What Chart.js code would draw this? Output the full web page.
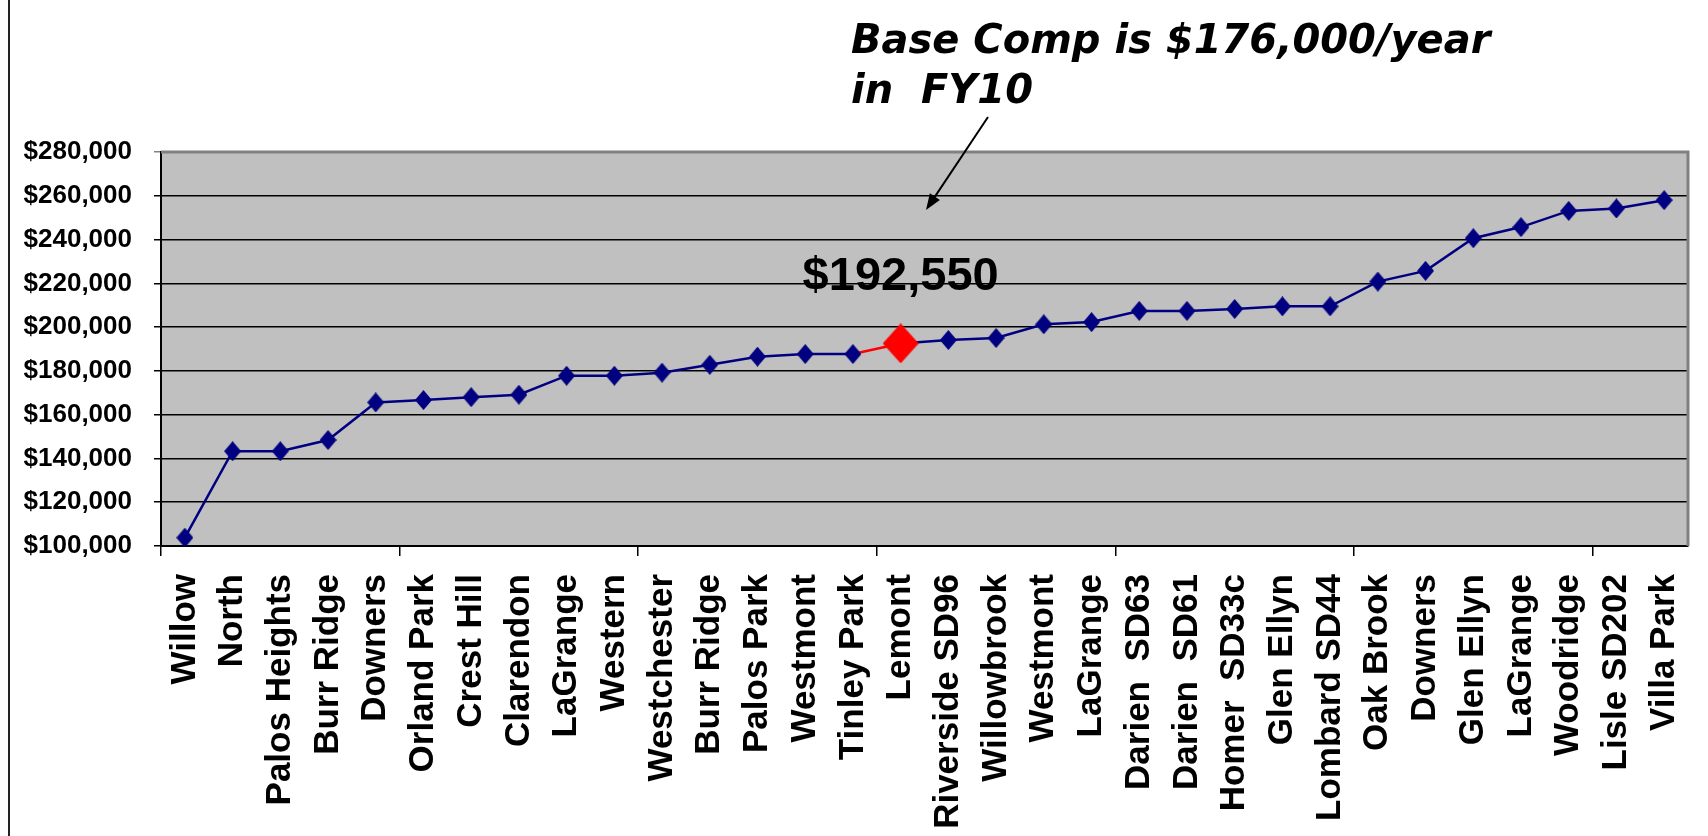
<!DOCTYPE html>
<html>
<head>
<meta charset="utf-8">
<script src="https://cdn.jsdelivr.net/npm/chart.js@4/dist/chart.umd.min.js"></script>
<style>
  body { margin: 0; background: #fff; }
  #wrap { position: relative; width: 1708px; height: 836px; }
</style>
</head>
<body>
<div id="wrap"><canvas id="chart" width="1708" height="836"></canvas></div>
<script>
const categories = [
  'Willow', 'North', 'Palos Heights', 'Burr Ridge', 'Downers', 'Orland Park',
  'Crest Hill', 'Clarendon', 'LaGrange', 'Western', 'Westchester', 'Burr Ridge',
  'Palos Park', 'Westmont', 'Tinley Park', 'Lemont', 'Riverside SD96', 'Willowbrook',
  'Westmont', 'LaGrange', 'Darien  SD63', 'Darien  SD61', 'Homer  SD33c', 'Glen Ellyn',
  'Lombard SD44', 'Oak Brook', 'Downers', 'Glen Ellyn', 'LaGrange', 'Woodridge',
  'Lisle SD202', 'Villa Park'
];
const salaries = [
  103800, 143300, 143300, 148400, 165600, 166700, 168000, 169100, 177800, 177800,
  179200, 182800, 186500, 187700, 187700, 192550, 194100, 195000, 201300, 202300,
  207400, 207400, 208300, 209500, 209500, 220800, 225700, 240600, 245700, 253100,
  254200, 258000
];
const highlightIndex = 15; // Lemont
const yMin = 100000;
const yMax = 280000;
const yStep = 20000;
const noteLines = ['Base Comp is $176,000/year', 'in  FY10'];

const NAVY = '#000080';
const RED = '#ff0000';

function diamond(w, h, color) {
  const c = document.createElement('canvas');
  c.width = w;
  c.height = h;
  const g = c.getContext('2d');
  g.fillStyle = color;
  g.beginPath();
  g.moveTo(w / 2, 0);
  g.lineTo(w, h / 2);
  g.lineTo(w / 2, h);
  g.lineTo(0, h / 2);
  g.closePath();
  g.fill();
  return c;
}
const navyMark = diamond(17, 20, NAVY);
const redMark = diamond(36, 40, RED);

const fmt = v => '$' + v.toLocaleString('en-US');

// grey plot area + its border, then the text notes and arrow
const decor = {
  id: 'decor',
  beforeDraw(chart) {
    const { ctx, chartArea: a } = chart;
    ctx.save();
    ctx.fillStyle = '#c0c0c0';
    ctx.fillRect(a.left, a.top, a.width, a.height);
    ctx.restore();
  },
  beforeDatasetsDraw(chart) {
    const { ctx, chartArea: a } = chart;
    ctx.save();
    ctx.strokeStyle = '#808080';
    ctx.lineWidth = 3;
    ctx.beginPath();
    ctx.moveTo(a.left, a.top);
    ctx.lineTo(a.right, a.top);
    ctx.lineTo(a.right, a.bottom);
    ctx.stroke();
    ctx.restore();
  },
  afterDraw(chart) {
    const { ctx, scales } = chart;
    ctx.save();
    // left frame line
    ctx.fillStyle = '#222';
    ctx.fillRect(8, 0, 2, 836);

    // value label over the highlighted point
    ctx.fillStyle = '#000';
    ctx.font = 'bold 47px "Liberation Sans", Arial, sans-serif';
    ctx.textAlign = 'center';
    ctx.textBaseline = 'alphabetic';
    ctx.fillText(fmt(salaries[highlightIndex]),
      scales.x.getPixelForValue(highlightIndex), scales.y.getPixelForValue(217000));

    // note text
    ctx.textAlign = 'left';
    ctx.font = 'italic bold 40px "DejaVu Sans", sans-serif';
    ctx.fillText(noteLines[0], 851, 53);
    ctx.fillText(noteLines[1], 851, 103);

    // arrow
    const x1 = 988, y1 = 117, x2 = 926, y2 = 210;
    const ang = Math.atan2(y2 - y1, x2 - x1);
    ctx.strokeStyle = '#000';
    ctx.lineWidth = 2;
    ctx.beginPath();
    ctx.moveTo(x1, y1);
    ctx.lineTo(x2 - Math.cos(ang) * 8, y2 - Math.sin(ang) * 8);
    ctx.stroke();
    ctx.beginPath();
    ctx.moveTo(x2, y2);
    ctx.lineTo(x2 - Math.cos(ang) * 16 + Math.sin(ang) * 6, y2 - Math.sin(ang) * 16 - Math.cos(ang) * 6);
    ctx.lineTo(x2 - Math.cos(ang) * 16 - Math.sin(ang) * 6, y2 - Math.sin(ang) * 16 + Math.cos(ang) * 6);
    ctx.closePath();
    ctx.fill();
    ctx.restore();
  }
};

new Chart(document.getElementById('chart'), {
  type: 'line',
  data: {
    labels: categories,
    datasets: [{
      data: salaries,
      borderColor: NAVY,
      borderWidth: 2.5,
      tension: 0,
      pointStyle: ctx => ctx.dataIndex === highlightIndex ? redMark : navyMark,
      pointRadius: 10,
      segment: {
        borderColor: ctx => ctx.p1DataIndex === highlightIndex ? RED : undefined
      }
    }]
  },
  options: {
    responsive: false,
    animation: false,
    events: [],
    layout: { padding: { top: 152, right: 20, left: 0, bottom: 0 } },
    plugins: { legend: { display: false }, tooltip: { enabled: false } },
    scales: {
      x: {
        type: 'category',
        offset: true,
        afterFit: s => {
          s.height = 290;
          s.paddingLeft = 0;
          s.paddingRight = 0;
        },
        grid: {
          offset: true,
          drawOnChartArea: false,
          drawTicks: true,
          tickLength: 10,
          lineWidth: 1.5,
          color: ctx => (ctx.index !== undefined && ctx.index % 5 === 0) ? '#000' : 'rgba(0,0,0,0)'
        },
        border: { display: true, color: '#000', width: 2 },
        ticks: {
          autoSkip: false,
          minRotation: 90,
          maxRotation: 90,
          padding: 18,
          color: '#000',
          font: { family: '"Liberation Sans", Arial, sans-serif', size: 35, weight: 'bold' }
        }
      },
      y: {
        min: yMin,
        max: yMax,
        afterFit: s => { s.width = 161; },
        grid: {
          drawTicks: true,
          tickLength: 7,
          lineWidth: 1.5,
          color: ctx => ctx.tick && ctx.tick.value === yMax ? '#808080' : '#000'
        },
        border: { display: true, color: '#000', width: 2 },
        ticks: {
          stepSize: yStep,
          padding: 22,
          color: '#000',
          callback: v => fmt(v),
          font: { family: '"Liberation Sans", Arial, sans-serif', size: 26, weight: 'bold' }
        }
      }
    }
  },
  plugins: [decor]
});
</script>
</body>
</html>
